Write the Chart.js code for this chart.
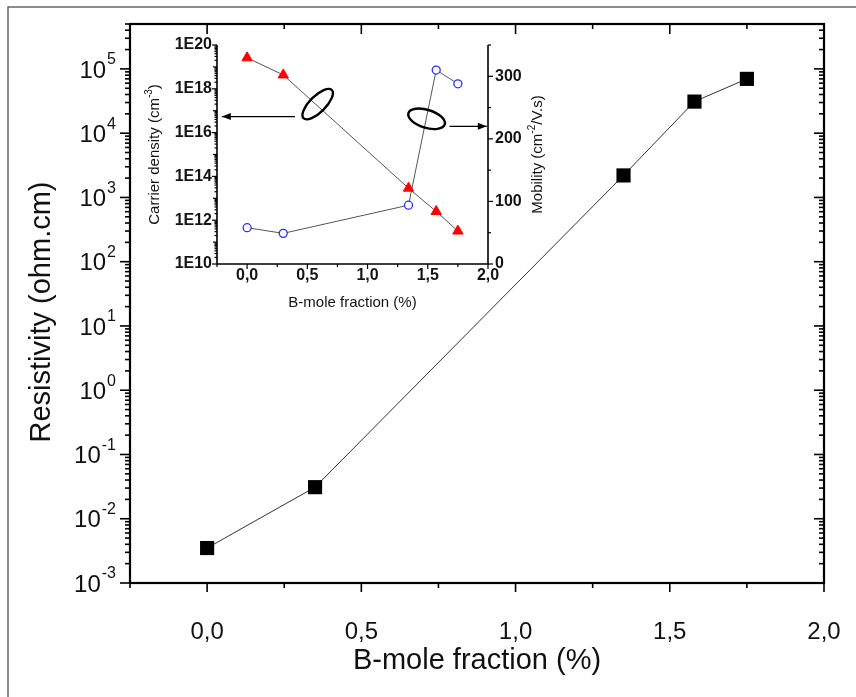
<!DOCTYPE html>
<html><head><meta charset="utf-8">
<script src="https://cdn.jsdelivr.net/npm/chart.js@4/dist/chart.umd.min.js"></script>
<style>
html,body{margin:0;padding:0;background:#fff;}
#wrap{position:relative;width:856px;height:697px;background:#fff;}
canvas{position:absolute;left:0;top:0;}
#inset{pointer-events:none;}
</style></head><body>
<div id="wrap"><canvas id="main" width="856" height="697"></canvas><canvas id="inset" width="856" height="697"></canvas></div>
<script>
// ---- data ----
const fraction = [0.0, 0.35, 1.35, 1.58, 1.75];
const resistivity = [3.5e-3, 3.1e-2, 2.2e3, 3.1e4, 7.0e4];
const insetFraction = [0.0, 0.30, 1.34, 1.57, 1.75];
const carrierDensity = [2.6e19, 4.3e18, 2.9e13, 2.5e12, 3.2e11];
const mobility = [58, 49, 94, 310, 288];
const xTickValues = [0, 0.5, 1.0, 1.5, 2.0];
const xTickLabels = ['0,0', '0,5', '1,0', '1,5', '2,0'];
const yTickExponents = [-3, -2, -1, 0, 1, 2, 3, 4, 5];
const insetDensityExponents = [10, 12, 14, 16, 18, 20];
const insetMobilityTicks = [0, 100, 200, 300];

const FONT = '"Liberation Sans", Arial, sans-serif';
Chart.defaults.font.family = FONT;
const pts = (xs, ys) => xs.map((x, i) => ({x: x, y: ys[i]}));

function seg(ctx, x1, y1, x2, y2) { ctx.beginPath(); ctx.moveTo(x1, y1); ctx.lineTo(x2, y2); ctx.stroke(); }

const mainAxes = {
  id: 'mainAxes',
  afterDraw(chart) {
    const ctx = chart.ctx, a = chart.chartArea, x = chart.scales.x, y = chart.scales.y;
    ctx.save();
    // outer figure border (left and top only visible)
    ctx.strokeStyle = '#666'; ctx.lineWidth = 1.5;
    ctx.beginPath(); ctx.moveTo(8, 697); ctx.lineTo(8, 7); ctx.lineTo(856, 7); ctx.stroke();
    // frame
    ctx.strokeStyle = '#000'; ctx.lineWidth = 2.2;
    ctx.strokeRect(a.left, a.top, a.right - a.left, a.bottom - a.top);
    ctx.lineWidth = 1.6;
    // x ticks
    for (let i = -1; i <= 8; i++) {
      const v = i * 0.25, px = x.getPixelForValue(v), major = (i % 2 === 0);
      seg(ctx, px, a.bottom, px, a.bottom + (major ? 9 : 5));
      seg(ctx, px, a.top, px, a.top + (major ? 10 : 5));
    }
    // y ticks
    for (let e = -3; e <= 5; e++) {
      const py = y.getPixelForValue(Math.pow(10, e));
      seg(ctx, a.left, py, a.left - 10, py);
      seg(ctx, a.right, py, a.right - 10, py);
      for (let k = 2; k <= 9; k++) {
        const v = k * Math.pow(10, e);
        if (v > y.max) break;
        const p = y.getPixelForValue(v);
        seg(ctx, a.left, p, a.left - 5, p);
        seg(ctx, a.right, p, a.right - 5, p);
      }
    }
    // x tick labels
    ctx.fillStyle = '#111';
    ctx.font = '24px ' + FONT; ctx.textAlign = 'center'; ctx.textBaseline = 'middle';
    xTickValues.forEach((v, i) => ctx.fillText(xTickLabels[i], x.getPixelForValue(v), 632));
    // y tick labels with superscripts
    const xEnd = 116;
    yTickExponents.forEach(e => {
      const py = y.getPixelForValue(Math.pow(10, e));
      const sup = String(e);
      ctx.font = '16px ' + FONT;
      const ws = ctx.measureText(sup).width;
      ctx.textAlign = 'right'; ctx.textBaseline = 'middle';
      ctx.font = '24px ' + FONT;
      ctx.fillText('10', xEnd - ws - 1, py + 2);
      ctx.font = '16px ' + FONT; ctx.textAlign = 'left';
      ctx.fillText(sup, xEnd - ws, py - 9);
    });
    // axis titles
    ctx.font = '29px ' + FONT; ctx.textAlign = 'center'; ctx.textBaseline = 'middle';
    ctx.fillText('B-mole fraction (%)', (a.left + a.right) / 2, 661);
    ctx.save(); ctx.translate(42, 312); ctx.rotate(-Math.PI / 2);
    ctx.fillText('Resistivity (ohm.cm)', 0, 0); ctx.restore();
    ctx.restore();
  }
};

function arrow(ctx, x1, y1, x2, y2) {
  ctx.beginPath(); ctx.moveTo(x1, y1); ctx.lineTo(x2, y2); ctx.stroke();
  const dir = Math.sign(x2 - x1);
  ctx.beginPath(); ctx.moveTo(x2, y2); ctx.lineTo(x2 - dir * 9, y2 - 3.5); ctx.lineTo(x2 - dir * 9, y2 + 3.5); ctx.closePath(); ctx.fill();
}

const insetAxes = {
  id: 'insetAxes',
  afterDraw(chart) {
    const ctx = chart.ctx, a = chart.chartArea, x = chart.scales.x, yL = chart.scales.yL, yR = chart.scales.yR;
    ctx.save();
    ctx.strokeStyle = '#000'; ctx.fillStyle = '#000'; ctx.lineWidth = 1.6;
    ctx.beginPath(); ctx.moveTo(a.left, a.top); ctx.lineTo(a.left, a.bottom); ctx.lineTo(a.right, a.bottom); ctx.lineTo(a.right, a.top); ctx.stroke();
    ctx.lineWidth = 1.2;
    // left log ticks
    for (let e = 10; e <= 20; e++) {
      const py = yL.getPixelForValue(Math.pow(10, e));
      seg(ctx, a.left, py, a.left - (e % 2 === 0 ? 5 : 4), py);
      if (e < 20) for (let k = 2; k <= 9; k++) {
        const p = yL.getPixelForValue(k * Math.pow(10, e));
        seg(ctx, a.left, p, a.left - 2.5, p);
      }
    }
    // bottom ticks
    for (let i = -1; i <= 8; i++) {
      const px = x.getPixelForValue(i * 0.25);
      seg(ctx, px, a.bottom, px, a.bottom + (i % 2 === 0 ? 5 : 3));
    }
    // right ticks
    for (let v = 0; v <= 350; v += 50) {
      const py = yR.getPixelForValue(v);
      seg(ctx, a.right, py, a.right + (v % 100 === 0 ? 5 : 3), py);
    }
    // labels
    ctx.fillStyle = '#141414';
    ctx.font = 'bold 16px ' + FONT; ctx.textBaseline = 'middle';
    ctx.textAlign = 'right';
    insetDensityExponents.forEach(e => ctx.fillText('1E' + e, a.left - 5, yL.getPixelForValue(Math.pow(10, e))));
    ctx.textAlign = 'left';
    insetMobilityTicks.forEach(v => ctx.fillText(String(v), a.right + 7, yR.getPixelForValue(v)));
    ctx.textAlign = 'center';
    xTickValues.forEach((v, i) => ctx.fillText(xTickLabels[i], x.getPixelForValue(v), 276));
    ctx.font = '15px ' + FONT;
    ctx.fillText('B-mole fraction (%)', (a.left + a.right) / 2, 303);
    // rotated titles with superscripts
    function rotTitle(cx, cy, main, sup, tail) {
      ctx.save(); ctx.translate(cx, cy); ctx.rotate(-Math.PI / 2);
      ctx.font = '15px ' + FONT; const w1 = ctx.measureText(main).width, w3 = ctx.measureText(tail).width;
      ctx.font = '10px ' + FONT; const w2 = ctx.measureText(sup).width;
      let sx = -(w1 + w2 + w3) / 2;
      ctx.textAlign = 'left'; ctx.textBaseline = 'middle';
      ctx.font = '15px ' + FONT; ctx.fillText(main, sx, 0);
      ctx.font = '10px ' + FONT; ctx.fillText(sup, sx + w1, -6);
      ctx.font = '15px ' + FONT; ctx.fillText(tail, sx + w1 + w2, 0);
      ctx.restore();
    }
    rotTitle(155, (a.top + a.bottom) / 2, 'Carrier density (cm', '-3', ')');
    rotTitle(538, (a.top + a.bottom) / 2, 'Mobility (cm', '-2', '/V.s)');
    // annotations: loops + arrows pointing to the relevant axis
    ctx.strokeStyle = '#000'; ctx.fillStyle = '#000';
    ctx.lineWidth = 2.4;
    ctx.beginPath(); ctx.ellipse(x.getPixelForValue(0.586), yL.getPixelForValue(Math.pow(10, 17.3)), 20, 8, -Math.PI / 4, 0, 2 * Math.PI); ctx.stroke();
    ctx.beginPath(); ctx.ellipse(x.getPixelForValue(1.49), yR.getPixelForValue(232), 19, 9, 0.3, 0, 2 * Math.PI); ctx.stroke();
    ctx.lineWidth = 1.4;
    const ly = yL.getPixelForValue(Math.pow(10, 16.73));
    arrow(ctx, x.getPixelForValue(0.397), ly, x.getPixelForValue(-0.21), ly);
    const ry = yR.getPixelForValue(220);
    arrow(ctx, x.getPixelForValue(1.68), ry, x.getPixelForValue(1.99), ry);
    ctx.restore();
  }
};

new Chart(document.getElementById('main'), {
  type: 'line',
  data: { datasets: [{
    data: pts(fraction, resistivity),
    borderColor: '#333', borderWidth: 1, tension: 0, fill: false,
    pointStyle: 'rect', pointRadius: 10, pointBackgroundColor: '#000', pointBorderColor: '#000', pointBorderWidth: 0
  }]},
  options: {
    responsive: false, animation: false, devicePixelRatio: 1,
    layout: { padding: { left: 130, top: 24, right: 32, bottom: 114 } },
    plugins: { legend: { display: false }, tooltip: { enabled: false } },
    scales: {
      x: { type: 'linear', min: -0.25, max: 2.0, display: false },
      y: { type: 'logarithmic', min: 1e-3, max: 5e5, display: false }
    }
  },
  plugins: [mainAxes]
});

new Chart(document.getElementById('inset'), {
  type: 'line',
  data: { datasets: [
    { data: pts(insetFraction, carrierDensity), yAxisID: 'yL', borderColor: '#555', borderWidth: 1, tension: 0, fill: false,
      pointStyle: 'triangle', pointRadius: 6, pointBackgroundColor: '#ff0000', pointBorderColor: '#ff0000', pointBorderWidth: 1 },
    { data: pts(insetFraction, mobility), yAxisID: 'yR', borderColor: '#555', borderWidth: 1, tension: 0, fill: false,
      pointStyle: 'circle', pointRadius: 4, pointBackgroundColor: '#ffffff', pointBorderColor: '#2a2aff', pointBorderWidth: 1.3 }
  ]},
  options: {
    responsive: false, animation: false, devicePixelRatio: 1,
    layout: { padding: { left: 217, top: 45, right: 368, bottom: 433 } },
    plugins: { legend: { display: false }, tooltip: { enabled: false } },
    scales: {
      x: { type: 'linear', min: -0.25, max: 2.0, display: false },
      yL: { type: 'logarithmic', position: 'left', min: 1e10, max: 1e20, display: false },
      yR: { type: 'linear', position: 'right', min: 0, max: 350, display: false }
    }
  },
  plugins: [insetAxes]
});
</script>
</body></html>
